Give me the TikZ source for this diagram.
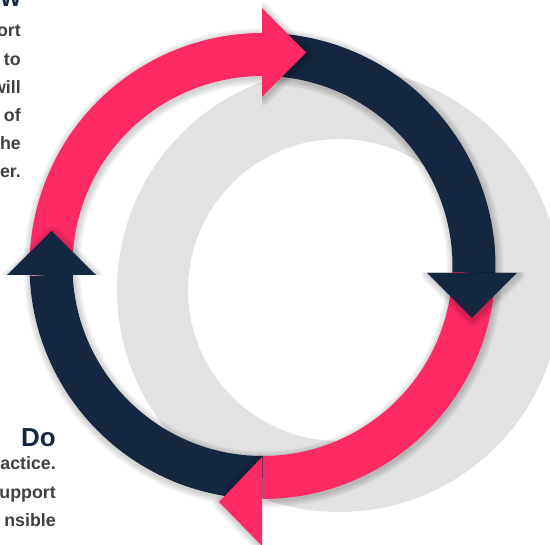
\documentclass[tikz,border=0pt]{standalone}
\usepackage{fontspec}
\setmainfont{Liberation Sans}
\definecolor{pinkc}{HTML}{FE2A65}
\definecolor{navyc}{HTML}{142640}
\definecolor{ringgray}{HTML}{E2E2E2}
\definecolor{txtgray}{HTML}{404040}
\begin{document}
\begin{tikzpicture}[x=1pt,y=1pt,
  bodytext/.style={font=\bfseries\fontsize{17.8}{20}\selectfont, text=txtgray, anchor=base east, inner sep=0pt},
  headtext/.style={font=\bfseries\fontsize{26}{30}\selectfont, text=navyc, anchor=base east, inner sep=0pt},
  arcband/.style={line width=43pt, line cap=butt},
  halo/.style={draw=black, draw opacity=0.028, line join=round}]
\useasboundingbox (0,0) rectangle (550,545);
\clip (0,0) rectangle (550,545);
\coordinate (C) at (262.5,279);
\coordinate (G) at (339,255);
% grey backdrop ring
\fill[ringgray, even odd rule] (G) circle[radius=222] (G) circle[radius=151];
% soft shadow of the ring
\foreach \w in {1,...,7}{
  \draw[halo, line width=43pt+2*\w pt] ([shift={(1,-2)}]C) circle[radius=211.5];
}
% arc bands
\draw[arcband, pinkc] (C) ++(90:211.5) arc[start angle=90, end angle=182.4, radius=211.5];
\draw[arcband, navyc] (C) ++(-1.9:211.5) arc[start angle=-1.9, end angle=90, radius=211.5];
\draw[arcband, pinkc] (C) ++(-90:211.5) arc[start angle=-90, end angle=-1.9, radius=211.5];
\draw[arcband, navyc] (C) ++(182.4:211.5) arc[start angle=182.4, end angle=270, radius=211.5];
% arrow heads with shadows
\begin{scope}
  \clip (262,0) rectangle (550,545);
  \foreach \w in {1,...,7}{\draw[halo, line width=2*\w pt] (263,535) -- (307,490.5) -- (263,446) -- cycle;}
\end{scope}
\fill[pinkc] (262,537) -- (306,492.5) -- (262,448) -- cycle;
\begin{scope}
  \clip (0,0) rectangle (550,272);
  \foreach \w in {1,...,7}{\draw[halo, line width=2*\w pt] (428,270) -- (518,270) -- (473,225) -- cycle;}
\end{scope}
\fill[navyc] (427,272) -- (517,272) -- (472,227) -- cycle;
\begin{scope}
  \clip (0,0) rectangle (262,545);
  \foreach \w in {1,...,7}{\draw[halo, line width=2*\w pt] (263,86) -- (220,41) -- (263,-3) -- cycle;}
\end{scope}
\fill[pinkc] (262,88) -- (219,43) -- (262,-1) -- cycle;
\begin{scope}
  \clip (0,270) rectangle (550,545);
  \foreach \w in {1,...,7}{\draw[halo, line width=2*\w pt] (8,268) -- (97,268) -- (52.5,312) -- cycle;}
\end{scope}
\fill[navyc] (7,270) -- (96,270) -- (51.5,314) -- cycle;
% texts, top-left block
\node[headtext] (h1) at (21,538) {w};
\node[bodytext] (t1) at (21,508) {ort};
\node[bodytext] (t2) at (21,479.8) {to};
\node[bodytext] (t3) at (21,451.6) {will};
\node[bodytext] (t4) at (21,423.4) {of};
\node[bodytext] (t5) at (21,395.2) {he};
\node[bodytext] (t6) at (21,367) {er.};
% texts, bottom-left block
\node[headtext] (h2) at (56,98) {Do};
\node[bodytext] (b1) at (56,75) {actice.};
\node[bodytext] (b2) at (56,46.5) {upport};
\node[bodytext] (b3) at (56,18) {nsible};
\end{tikzpicture}
\end{document}
